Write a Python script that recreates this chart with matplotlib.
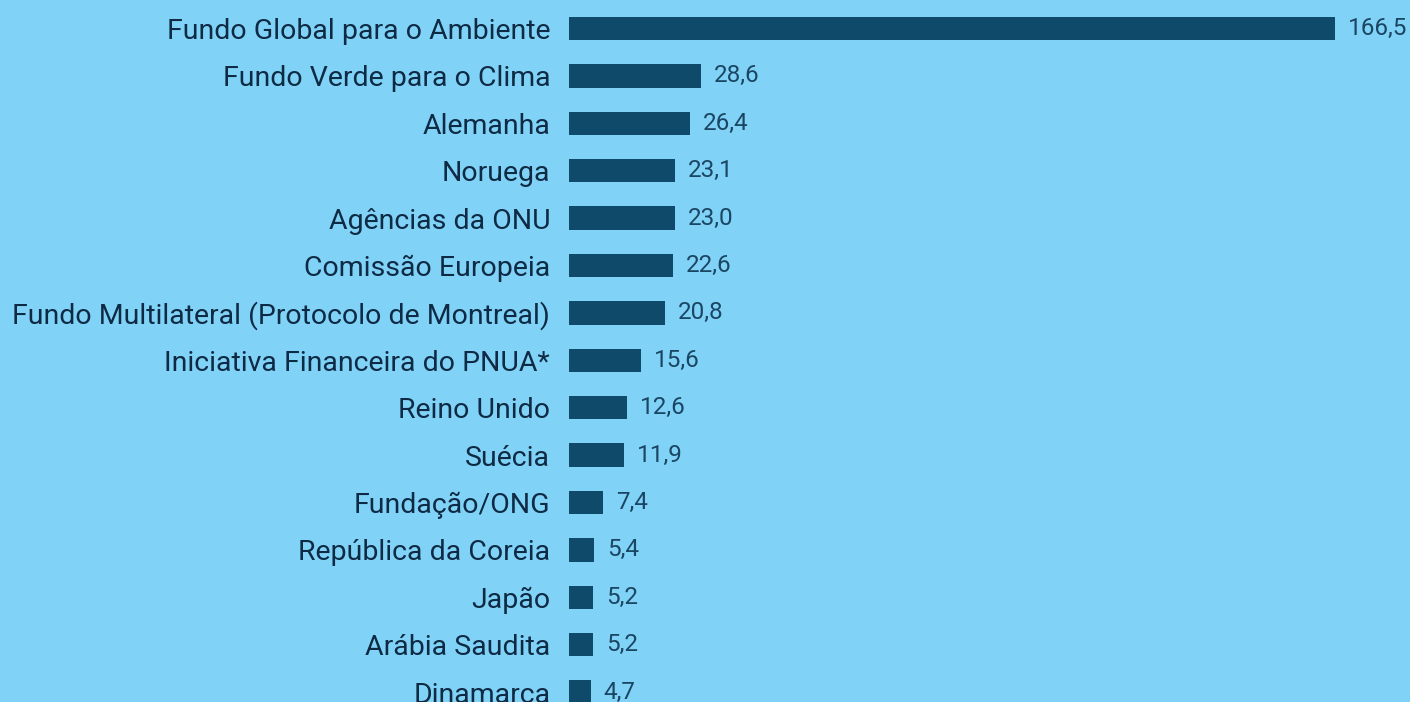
import matplotlib.pyplot as plt

plt.rcParams['font.family'] = ['Roboto', 'DejaVu Sans']

labels = ['Fundo Global para o Ambiente', 'Fundo Verde para o Clima', 'Alemanha',
          'Noruega', 'Agências da ONU', 'Comissão Europeia',
          'Fundo Multilateral (Protocolo de Montreal)', 'Iniciativa Financeira do PNUA*',
          'Reino Unido', 'Suécia', 'Fundação/ONG', 'República da Coreia', 'Japão',
          'Arábia Saudita', 'Dinamarca']
values = [166.5, 28.6, 26.4, 23.1, 23.0, 22.6, 20.8, 15.6, 12.6, 11.9, 7.4, 5.4, 5.2, 5.2, 4.7]

bg = '#80d3f7'
bar_col = '#0f4a6b'

fig = plt.figure(figsize=(14.1, 7.02), dpi=100, facecolor=bg)
ax = fig.add_axes([569/1410, 0, 1 - 569/1410, 1])
ax.set_facecolor(bg)

pos = list(range(len(values)))
ax.barh(pos, values, height=0.49, color=bar_col)

for i, v in enumerate(values):
    ax.text(v + 2.8, i, f'{v:.1f}'.replace('.', ','), va='center', ha='left',
            fontsize=17.5, color='#1b4663')

ax.set_yticks(pos)
ax.set_yticklabels(labels, fontsize=20.5, color='#0e2a44')
ax.tick_params(axis='y', length=0, pad=13.5)
ax.set_xticks([])
ax.set_xlim(0, (1410 - 569) / 4.6)
ax.set_ylim((702 - 28.5) / 47.4, -28.5 / 47.4)
for s in ax.spines.values():
    s.set_visible(False)

plt.savefig('out.png', dpi=100, facecolor=bg)
